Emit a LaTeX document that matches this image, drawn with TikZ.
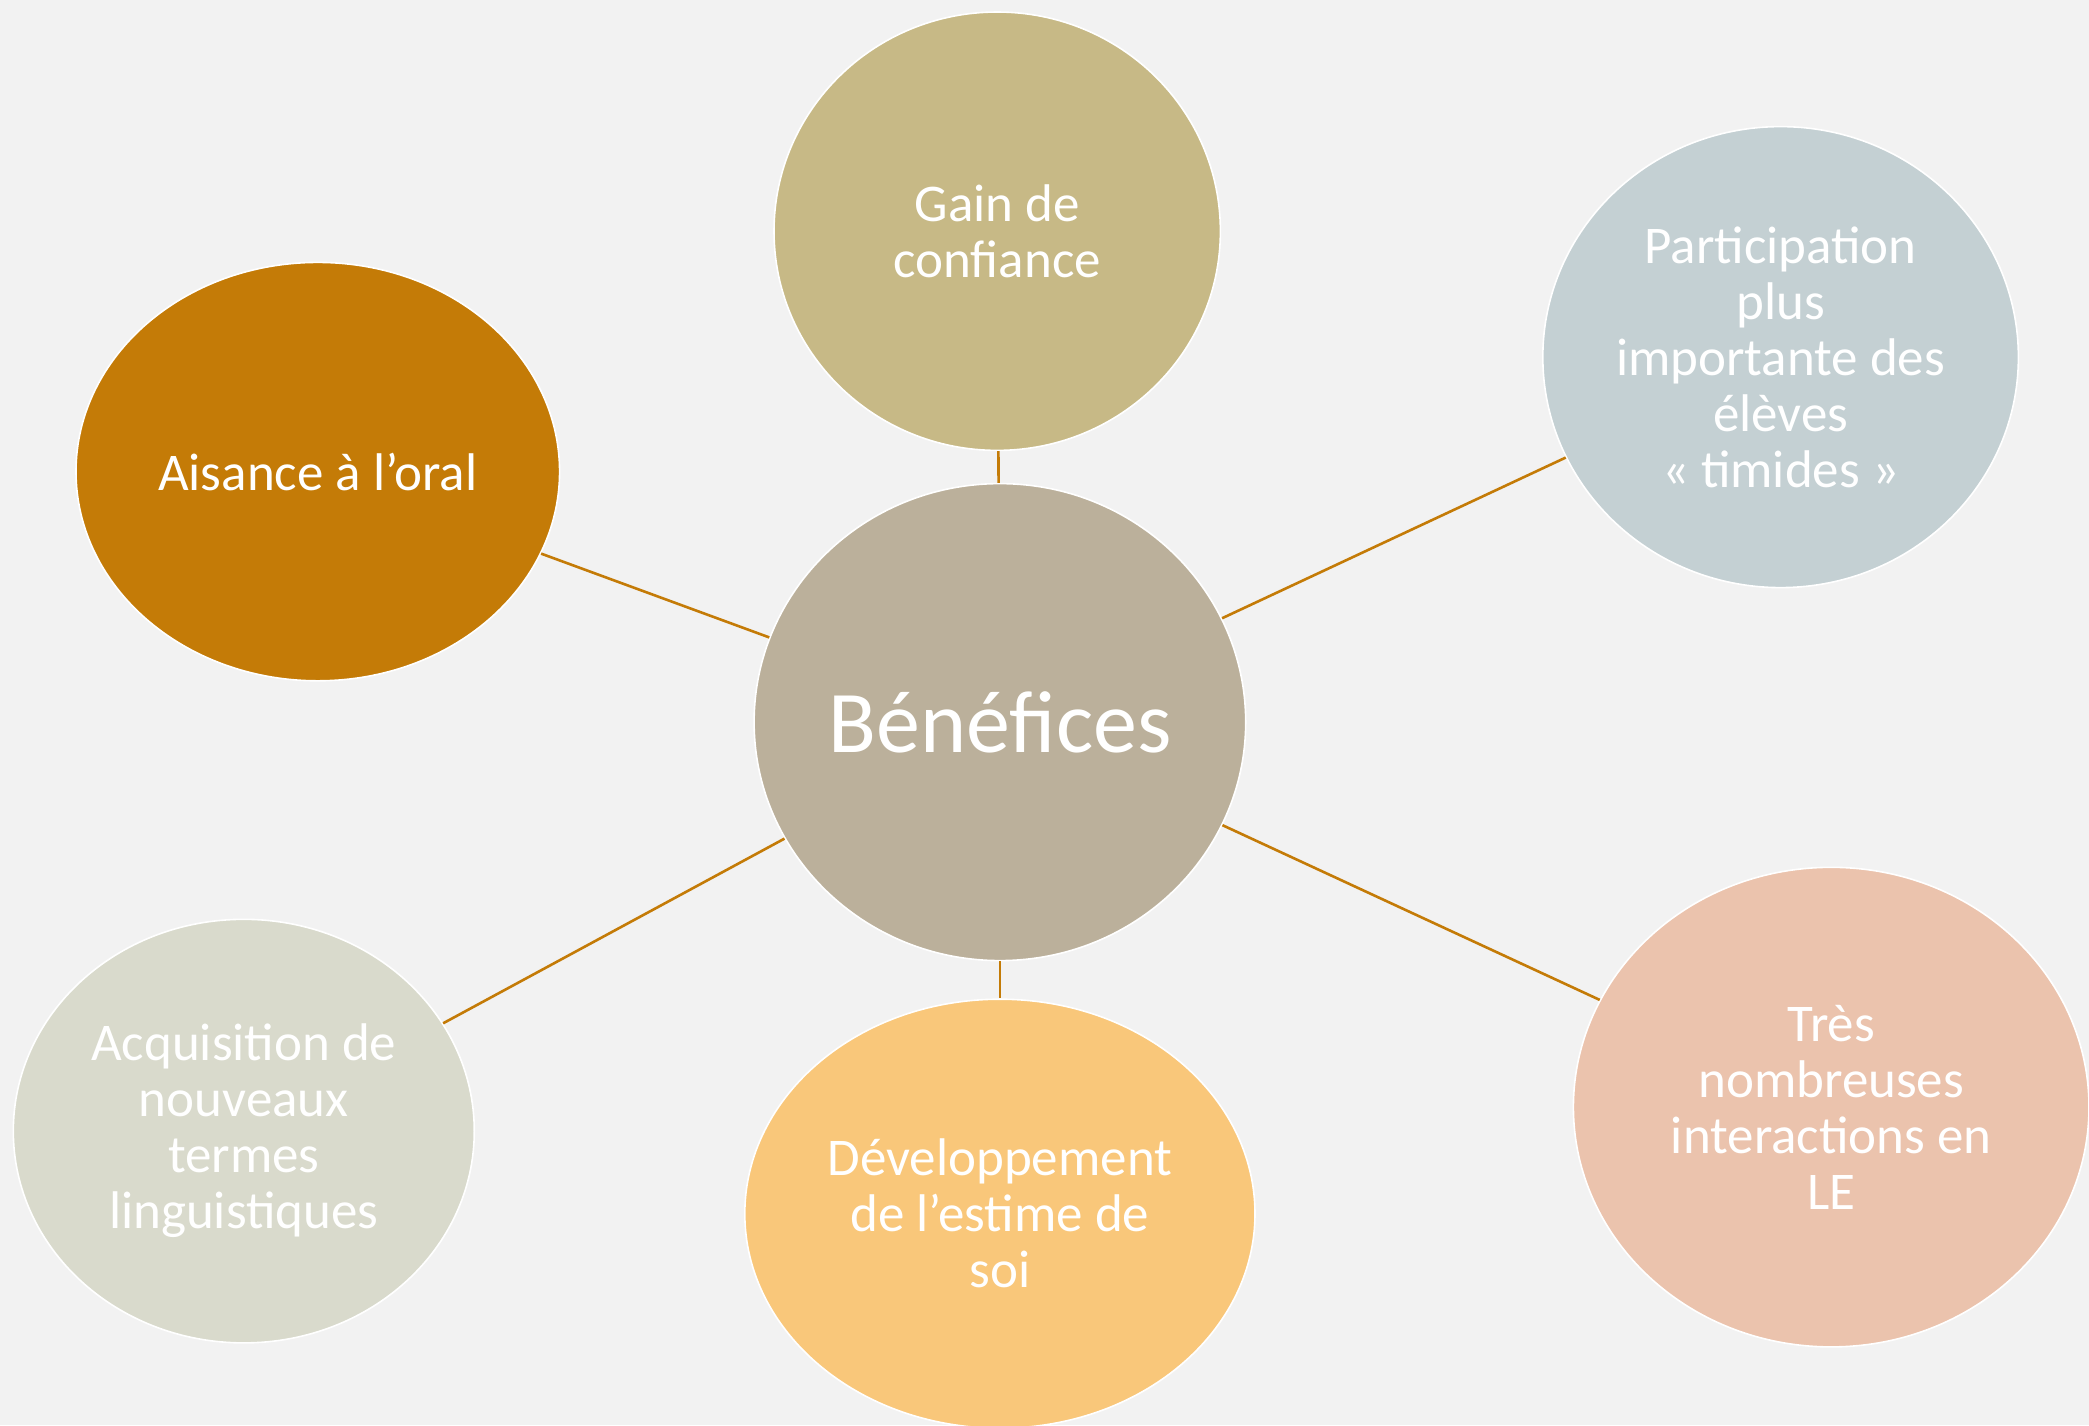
\documentclass[tikz,border=0pt]{standalone}
\usepackage{fontspec}
\setmainfont{Carlito}
\usetikzlibrary{shapes.geometric}
\definecolor{bg}{HTML}{F2F2F2}
\definecolor{cBen}{HTML}{BBB09B}
\definecolor{cGain}{HTML}{C7B986}
\definecolor{cPart}{HTML}{C4D0D3}
\definecolor{cAis}{HTML}{C47B07}
\definecolor{cAcq}{HTML}{D9DACC}
\definecolor{cDev}{HTML}{F9C77A}
\definecolor{cTres}{HTML}{EBC3AD}
\definecolor{cLine}{HTML}{C47B07}
\tikzset{
  bubble/.style={ellipse, draw=white, line width=0.8pt, inner sep=0pt, text=white, align=center,
    font=\fontsize{26.5}{28}\selectfont},
  link/.style={draw=cLine, line width=1.3pt}
}
\begin{document}
\begin{tikzpicture}[x=0.5pt, y=-0.5pt]
\fill[bg] (0,0) rectangle (2089,1425);
\useasboundingbox (0,0) rectangle (2089,1425);
\node[bubble, fill=cBen, minimum width=491.6pt*0.5, minimum height=477pt*0.5, font=\fontsize{44}{50}\selectfont] (ben) at (999.9,722.1) {\makebox[0pt]{Bénéfices}};
\node[bubble, fill=cGain, minimum width=446.4pt*0.5, minimum height=438.4pt*0.5] (gain) at (997.2,231.2) {Gain de\\confiance};
\node[bubble, fill=cPart, minimum width=475.6pt*0.5, minimum height=461pt*0.5] (part) at (1780.6,357.1) {Participation\\plus\\importante des\\élèves\\« timides »};
\node[bubble, fill=cAis, minimum width=483.6pt*0.5, minimum height=418.4pt*0.5] (ais) at (317.8,471.6) {Aisance à l’oral};
\node[bubble, fill=cAcq, minimum width=461pt*0.5, minimum height=423.6pt*0.5] (acq) at (243.8,1131.1) {Acquisition de\\nouveaux\\termes\\linguistiques};
\node[bubble, fill=cDev, minimum width=510.2pt*0.5, minimum height=429pt*0.5] (dev) at (999.9,1213.7) {Développement\\de l’estime de\\soi};
\node[bubble, fill=cTres, minimum width=515.6pt*0.5, minimum height=479.6pt*0.5] (tres) at (1831.2,1107.1) {Très\\nombreuses\\interactions en\\LE};
\draw[link] (ben) -- (gain);
\draw[link] (ben) -- (part);
\draw[link] (ben) -- (ais);
\draw[link] (ben) -- (acq);
\draw[link] (ben) -- (dev);
\draw[link] (ben) -- (tres);
\end{tikzpicture}
\end{document}
